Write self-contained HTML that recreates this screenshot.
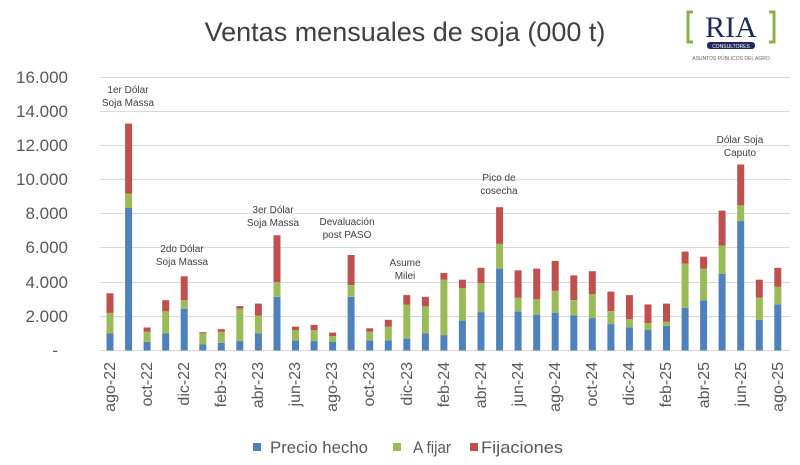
<!DOCTYPE html>
<html><head><meta charset="utf-8"><style>
html,body{margin:0;padding:0;background:#fff;}
svg{display:block;font-family:"Liberation Sans",sans-serif;}
</style></head><body>
<svg id="c" width="800" height="465" viewBox="0 0 800 465" xmlns="http://www.w3.org/2000/svg">
<rect width="800" height="465" fill="#fff"/>
<text x="405" y="41" text-anchor="middle" font-size="27" fill="#404040">Ventas mensuales de soja (000 t)</text>
<g>
<path d="M693 12 h-5 v30 h5" fill="none" stroke="#8db04a" stroke-width="3"/>
<path d="M769 12 h5 v30 h-5" fill="none" stroke="#8db04a" stroke-width="3"/>
<text x="731" y="37" text-anchor="middle" font-family="Liberation Serif,serif" font-size="30" fill="#1f2a5c">RIA</text>
<rect x="707" y="42" width="48" height="7" rx="3" fill="#1f2a5c"/>
<text x="731" y="48" text-anchor="middle" font-size="5" fill="#fff">CONSULTORES</text>
<text x="731" y="60" text-anchor="middle" font-size="5" fill="#666">ASUNTOS PÚBLICOS DEL AGRO</text>
</g>
<g stroke="#d9d9d9" stroke-width="1">
<line x1="100" x2="790" y1="77.5" y2="77.5"/><line x1="100" x2="790" y1="111.5" y2="111.5"/>
<line x1="100" x2="790" y1="145.5" y2="145.5"/><line x1="100" x2="790" y1="179.5" y2="179.5"/>
<line x1="100" x2="790" y1="213.5" y2="213.5"/><line x1="100" x2="790" y1="247.5" y2="247.5"/>
<line x1="100" x2="790" y1="282.5" y2="282.5"/><line x1="100" x2="790" y1="316.5" y2="316.5"/>
<line x1="100" x2="790" y1="350.5" y2="350.5"/>
</g>
<g font-size="17" fill="#595959" text-anchor="end">
<text x="68" y="83">16.000</text><text x="68" y="117">14.000</text><text x="68" y="151">12.000</text>
<text x="68" y="185">10.000</text><text x="68" y="219">8.000</text><text x="68" y="253">6.000</text>
<text x="68" y="288">4.000</text><text x="68" y="322">2.000</text><text x="58" y="356">-</text>
</g>
<g id="bars"></g>
<g font-size="16" fill="#595959" text-anchor="end">
<text transform="translate(115,362) rotate(-90)">ago-22</text>
<text transform="translate(152,362) rotate(-90)">oct-22</text>
<text transform="translate(189,362) rotate(-90)">dic-22</text>
<text transform="translate(226,362) rotate(-90)">feb-23</text>
<text transform="translate(263,362) rotate(-90)">abr-23</text>
<text transform="translate(300,362) rotate(-90)">jun-23</text>
<text transform="translate(337,362) rotate(-90)">ago-23</text>
<text transform="translate(374,362) rotate(-90)">oct-23</text>
<text transform="translate(412,362) rotate(-90)">dic-23</text>
<text transform="translate(449,362) rotate(-90)">feb-24</text>
<text transform="translate(486,362) rotate(-90)">abr-24</text>
<text transform="translate(523,362) rotate(-90)">jun-24</text>
<text transform="translate(560,362) rotate(-90)">ago-24</text>
<text transform="translate(597,362) rotate(-90)">oct-24</text>
<text transform="translate(634,362) rotate(-90)">dic-24</text>
<text transform="translate(671,362) rotate(-90)">feb-25</text>
<text transform="translate(709,362) rotate(-90)">abr-25</text>
<text transform="translate(746,362) rotate(-90)">jun-25</text>
<text transform="translate(783,362) rotate(-90)">ago-25</text>
</g>
<g font-size="10" fill="#404040" text-anchor="middle">
<text x="128" y="93">1er Dólar</text><text x="128" y="106">Soja Massa</text>
<text x="182" y="252">2do Dólar</text><text x="182" y="265">Soja Massa</text>
<text x="273" y="213">3er Dólar</text><text x="273" y="226">Soja Massa</text>
<text x="347" y="225">Devaluación</text><text x="347" y="238">post PASO</text>
<text x="405" y="266">Asume</text><text x="405" y="279">Milei</text>
<text x="499" y="181">Pico de</text><text x="499" y="194">cosecha</text>
<text x="740" y="143">Dólar Soja</text><text x="740" y="156">Caputo</text>
</g>
<g font-size="17" fill="#595959">
<rect x="253" y="443" width="8" height="8" fill="#4f81bd"/><text x="270" y="453" textLength="98" lengthAdjust="spacingAndGlyphs">Precio hecho</text>
<rect x="393" y="443" width="8" height="8" fill="#9bbb59"/><text x="413" y="453" textLength="38" lengthAdjust="spacingAndGlyphs">A fijar</text>
<rect x="470" y="443" width="8" height="8" fill="#c0504d"/><text x="481" y="453" textLength="82" lengthAdjust="spacingAndGlyphs">Fijaciones</text>
</g>
</svg>
<script>
var d=[[1,2.2,3.35],[8.35,9.2,13.3],[0.5,1.1,1.35],[1,2.3,2.95],[2.45,2.95,4.35],[0.35,1,1.07],[0.45,1.1,1.25],[0.55,2.45,2.6],[1,2.05,2.75],[3.15,4,6.75],[0.6,1.2,1.4],[0.55,1.2,1.5],[0.5,0.85,1.05],[3.15,3.85,5.6],[0.6,1.1,1.3],[0.6,1.4,1.8],[0.7,2.7,3.25],[1,2.6,3.15],[0.9,4.15,4.55],[1.75,3.65,4.15],[2.25,3.95,4.85],[4.8,6.25,8.4],[2.3,3.1,4.7],[2.1,3,4.8],[2.2,3.5,5.25],[2.05,2.95,4.4],[1.9,3.3,4.65],[1.55,2.3,3.45],[1.35,1.85,3.25],[1.2,1.6,2.7],[1.45,1.7,2.75],[2.5,5.1,5.8],[2.95,4.8,5.5],[4.5,6.15,8.2],[7.6,8.5,10.9],[1.8,3.1,4.15],[2.7,3.75,4.85]];
var g=document.getElementById('bars'),s='',c=['#4f81bd','#9bbb59','#c0504d'],k=17.06,b=350.5;
d.forEach(function(v,i){var x=110+i*18.55-3.5,p=0;for(var j=0;j<3;j++){var y0=b-p*k,y1=b-v[j]*k;s+='<rect x="'+x.toFixed(1)+'" y="'+y1.toFixed(1)+'" width="7" height="'+(y0-y1).toFixed(1)+'" fill="'+c[j]+'"/>';p=v[j];}});
g.innerHTML=s;
</script>
</body></html>
